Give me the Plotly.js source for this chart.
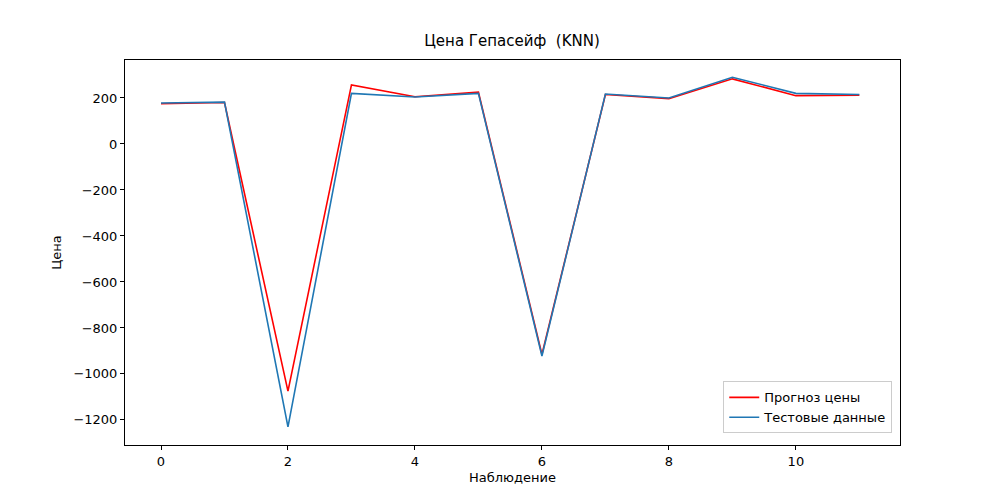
<!DOCTYPE html>
<html>
<head>
<meta charset="utf-8">
<script src="https://cdn.plot.ly/plotly-3.0.1.min.js"></script>
<style>body{margin:0;background:#fff}</style>
</head>
<body>
<div id="grafico" style="width:1000px;height:500px"></div>
<script>
// Наблюдения и значения цены
const nabl = [0, 1, 2, 3, 4, 5, 6, 7, 8, 9, 10, 11];
const prognoz = [175, 180, -1075, 257, 205, 225, -915, 215, 197, 283, 210, 212];
const test = [178, 182, -1230, 220, 204, 220, -922, 217, 200, 290, 220, 215];

const axisBase = {
    showgrid: false, zeroline: false, showline: true, mirror: true,
    linecolor: "#000", linewidth: 1, ticks: "outside", ticklen: 4,
    tickcolor: "#000", tickfont: { size: 13, color: "#000" }
};

Plotly.newPlot("grafico", [
    { x: nabl, y: prognoz, mode: "lines", name: "Прогноз цены", line: { color: "red", width: 1.6 } },
    { x: nabl, y: test, mode: "lines", name: "Тестовые данные", line: { color: "#1f77b4", width: 1.6 } }
], {
    width: 1000, height: 500,
    margin: { l: 125, r: 100, t: 60, b: 55 },
    font: { family: "DejaVu Sans", color: "#000" },
    title: { text: "Цена Гепасейф  (KNN)", x: 0.512, y: 0.93, font: { size: 15 } },
    xaxis: Object.assign({}, axisBase, { range: [-0.567, 11.64], tickvals: [0, 2, 4, 6, 8, 10],
        title: { text: "Наблюдение", font: { size: 13 }, standoff: 5 } }),
    yaxis: Object.assign({}, axisBase, { range: [-1309, 365], tickvals: [200, 0, -200, -400, -600, -800, -1000, -1200],
        ticktext: ["200", "0", "−200", "−400", "−600", "−800", "−1000", "−1200"],
        title: { text: "Цена", font: { size: 13 }, standoff: 8 } }),
    legend: { x: 0.99, y: 0.03, xanchor: "right", yanchor: "bottom", bordercolor: "#ccc", borderwidth: 1,
        bgcolor: "rgba(255,255,255,0.8)", font: { size: 13 } },
    showlegend: true,
    plot_bgcolor: "#fff", paper_bgcolor: "#fff"
}, { displayModeBar: false });
</script>
</body>
</html>
